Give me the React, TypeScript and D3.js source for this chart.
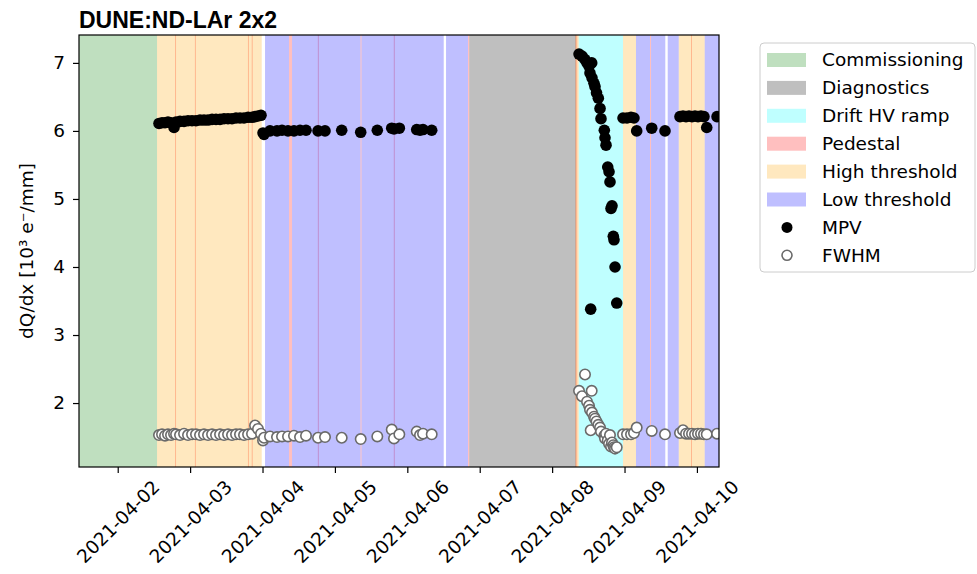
import * as React from "react";
import * as d3 from "d3";

// run-by-run dQ/dx summary
const runTimes = [
	"2021-04-02 13:41", "2021-04-02 14:41", "2021-04-02 15:41", "2021-04-02 16:40",
	"2021-04-02 17:40", "2021-04-02 18:40", "2021-04-02 19:20", "2021-04-02 20:39",
	"2021-04-02 21:59", "2021-04-02 23:18", "2021-04-03 00:38", "2021-04-03 01:57",
	"2021-04-03 03:17", "2021-04-03 04:36", "2021-04-03 05:56", "2021-04-03 07:16",
	"2021-04-03 08:35", "2021-04-03 09:55", "2021-04-03 11:14", "2021-04-03 12:34",
	"2021-04-03 13:53", "2021-04-03 15:13", "2021-04-03 16:32", "2021-04-03 17:52",
	"2021-04-03 19:12", "2021-04-03 20:31", "2021-04-03 21:31", "2021-04-03 22:30",
	"2021-04-03 23:30", "2021-04-04 00:10", "2021-04-04 00:30", "2021-04-04 02:29",
	"2021-04-04 04:48", "2021-04-04 06:28", "2021-04-04 08:27", "2021-04-04 10:26",
	"2021-04-04 12:26", "2021-04-04 14:25", "2021-04-04 18:24", "2021-04-04 20:43",
	"2021-04-05 02:15", "2021-04-05 08:33", "2021-04-05 14:03", "2021-04-05 18:50",
	"2021-04-05 19:35", "2021-04-05 21:21", "2021-04-06 03:07", "2021-04-06 04:12",
	"2021-04-06 05:12", "2021-04-06 08:05", "2021-04-08 08:55", "2021-04-08 09:54",
	"2021-04-08 10:54", "2021-04-08 11:34", "2021-04-08 12:14", "2021-04-08 12:33",
	"2021-04-08 12:47", "2021-04-08 13:07", "2021-04-08 13:13", "2021-04-08 13:53",
	"2021-04-08 14:13", "2021-04-08 14:43", "2021-04-08 15:19", "2021-04-08 15:53",
	"2021-04-08 16:12", "2021-04-08 17:18", "2021-04-08 17:32", "2021-04-08 17:52",
	"2021-04-08 18:26", "2021-04-08 18:52", "2021-04-08 19:11", "2021-04-08 19:31",
	"2021-04-08 19:51", "2021-04-08 20:17", "2021-04-08 20:31", "2021-04-08 20:51",
	"2021-04-08 21:25", "2021-04-08 23:30", "2021-04-09 00:49", "2021-04-09 02:09",
	"2021-04-09 03:08", "2021-04-09 04:02", "2021-04-09 09:01", "2021-04-09 13:25",
	"2021-04-09 18:23", "2021-04-09 19:23", "2021-04-09 20:23", "2021-04-09 21:22",
	"2021-04-09 22:22", "2021-04-09 23:22", "2021-04-10 00:21", "2021-04-10 01:21",
	"2021-04-10 02:20", "2021-04-10 03:15", "2021-04-10 06:40",
];

const mpvValues = [
	6.11, 6.12, 6.12, 6.13, 6.12, 6.05, 6.13, 6.14, 6.14, 6.15, 6.15, 6.15,
	6.16, 6.16, 6.16, 6.17, 6.17, 6.17, 6.18, 6.18, 6.18, 6.19, 6.19, 6.19,
	6.2, 6.2, 6.21, 6.22, 6.23, 5.97, 5.95, 6.0, 6.0, 6.01, 6.0, 6.0,
	6.01, 6.01, 6.0, 6.0, 6.01, 5.98, 6.01, 6.04, 6.03, 6.04, 6.02, 6.01,
	6.02, 6.01, 7.13, 7.1, 7.05, 7.0, 6.95, 6.85, 3.38, 7.0, 6.78, 6.7,
	6.65, 6.56, 6.48, 6.33, 6.18, 6.01, 5.9, 5.79, 5.47, 5.4, 5.25, 4.86,
	4.9, 4.45, 4.4, 4.0, 3.47, 6.19, 6.19, 6.2, 6.19, 6.0, 6.04, 6.0,
	6.21, 6.22, 6.21, 6.22, 6.21, 6.22, 6.21, 6.22, 6.21, 6.05, 6.21,
];

const fwhmValues = [
	1.53, 1.54, 1.52, 1.54, 1.53, 1.55, 1.54, 1.53, 1.55, 1.53, 1.54, 1.54,
	1.53, 1.54, 1.53, 1.54, 1.53, 1.54, 1.53, 1.54, 1.53, 1.54, 1.54, 1.53,
	1.54, 1.55, 1.67, 1.62, 1.55, 1.45, 1.49, 1.51, 1.5, 1.51, 1.51, 1.52,
	1.5, 1.52, 1.49, 1.5, 1.49, 1.47, 1.51, 1.61, 1.48, 1.54, 1.58, 1.53,
	1.55, 1.54, 2.18, 2.1, 2.42, 2.02, 1.96, 1.9, 1.6, 2.18, 1.86, 1.8,
	1.77, 1.73, 1.68, 1.64, 1.58, 1.52, 1.48, 1.55, 1.45, 1.4, 1.53, 1.36,
	1.42, 1.38, 1.35, 1.33, 1.35, 1.54, 1.54, 1.54, 1.56, 1.64, 1.59, 1.54,
	1.56, 1.6, 1.55, 1.55, 1.55, 1.54, 1.55, 1.55, 1.54, 1.54, 1.55,
];

// run-condition periods, [start, end]
const commissioningSpans = [["2021-04-01 11:10", "2021-04-02 13:02"]];
const diagnosticsSpans = [["2021-04-06 20:30", "2021-04-08 07:55"]];
const driftHvSpans = [["2021-04-08 08:49", "2021-04-08 23:30"]];
const pedestalSpans = [
	["2021-04-02 19:00", "2021-04-02 19:20"],
	["2021-04-03 01:35", "2021-04-03 01:55"],
	["2021-04-03 19:10", "2021-04-03 19:30"],
	["2021-04-03 20:25", "2021-04-03 20:45"],
	["2021-04-04 08:47", "2021-04-04 09:47"],
	["2021-04-04 18:20", "2021-04-04 18:40"],
	["2021-04-05 08:29", "2021-04-05 08:49"],
	["2021-04-05 19:31", "2021-04-05 19:51"],
	["2021-04-06 20:07", "2021-04-06 20:30"],
	["2021-04-08 07:45", "2021-04-08 08:20"],
	["2021-04-09 08:27", "2021-04-09 08:47"],
	["2021-04-09 22:02", "2021-04-09 22:22"],
];
const highThresholdSpans = [
	["2021-04-02 13:02", "2021-04-03 23:44"],
	["2021-04-08 07:45", "2021-04-08 08:49"],
	["2021-04-08 23:30", "2021-04-09 03:48"],
	["2021-04-09 17:58", "2021-04-10 02:35"],
];
const lowThresholdSpans = [
	["2021-04-04 00:50", "2021-04-04 08:47"],
	["2021-04-04 09:47", "2021-04-05 08:29"],
	["2021-04-05 08:49", "2021-04-06 12:04"],
	["2021-04-06 12:50", "2021-04-06 20:07"],
	["2021-04-09 03:48", "2021-04-09 08:27"],
	["2021-04-09 08:47", "2021-04-09 13:31"],
	["2021-04-09 14:19", "2021-04-09 17:58"],
	["2021-04-10 02:35", "2021-04-10 07:20"],
];

const bandNames = [
	"Commissioning",
	"Diagnostics",
	"Drift HV ramp",
	"Pedestal",
	"High threshold",
	"Low threshold",
];
const bandSpans = [
	commissioningSpans,
	diagnosticsSpans,
	driftHvSpans,
	pedestalSpans,
	highThresholdSpans,
	lowThresholdSpans,
];
const bandColors = ["green", "black", "cyan", "red", "orange", "blue"];
const bandAlpha = 0.25;

const xDomain = ["2021-04-01 11:10", "2021-04-10 07:19"];
const xTickLabels = [
	"2021-04-02", "2021-04-03", "2021-04-04", "2021-04-05", "2021-04-06",
	"2021-04-07", "2021-04-08", "2021-04-09", "2021-04-10",
];
const yDomain = [1.06, 7.41];
const yTicks = [2, 3, 4, 5, 6, 7];

const parseTime = d3.timeParse("%Y-%m-%d %H:%M");
const parseDay = d3.timeParse("%Y-%m-%d");

const font = "'DejaVu Sans', sans-serif";
const fontSize = 18.5;
const fwhmEdge = "#6a6a6a";

function xAxis(gRef: SVGGElement, xScale: d3.ScaleTime<number, number>) {
	d3.select(gRef)
		.call(
			d3
				.axisBottom(xScale)
				.tickValues(xTickLabels.map((d) => parseDay(d)!))
				.tickFormat((d) => d3.timeFormat("%Y-%m-%d")(d as Date))
				.tickSize(6)
				.tickSizeOuter(0)
		)
		.call((g) => g.select(".domain").remove())
		.attr("font-size", null)
		.attr("font-family", null)
		.call((g) => g.selectAll("line").attr("stroke-width", 1.2))
		.selectAll<SVGTextElement, unknown>("text")
		.attr("fill", "black")
		.attr("text-anchor", "middle")
		.attr("y", 0)
		.attr("dy", "0.35em")
		.attr("transform", function () {
			// centre the rotated label box under its tick
			const len = this.getComputedTextLength();
			const half = ((len + fontSize) * Math.SQRT1_2) / 2;
			return `translate(0 ${6 + 4 + half}) rotate(-45)`;
		});
}

function yAxis(gRef: SVGGElement, yScale: d3.ScaleLinear<number, number>) {
	d3.select(gRef)
		.call(
			d3
				.axisLeft(yScale)
				.tickValues(yTicks)
				.tickFormat(d3.format("d"))
				.tickSize(6)
				.tickPadding(8)
				.tickSizeOuter(0)
		)
		.call((g) => g.select(".domain").remove())
		.attr("font-size", null)
		.attr("font-family", null)
		.call((g) => g.selectAll("line").attr("stroke-width", 1.2))
		.selectAll("text")
		.attr("fill", "black");
}

function Legend({ x, y }: { x: number; y: number }) {
	const rowH = 27.9;
	return (
		<g transform={`translate(${x} ${y})`}>
			<rect
				width={215}
				height={229}
				rx={4}
				fill="white"
				fillOpacity={0.8}
				stroke="#cccccc"
			/>
			{bandNames.map((name, i) => (
				<g key={name} transform={`translate(0 ${17 + rowH * i})`}>
					<rect
						x={7}
						y={-7}
						width={39}
						height={14}
						fill={bandColors[i]}
						fillOpacity={bandAlpha}
					/>
					<text x={62} dy="0.35em">
						{name}
					</text>
				</g>
			))}
			<g transform={`translate(0 ${17 + rowH * 6})`}>
				<circle cx={27} r={5.5} fill="black" />
				<text x={62} dy="0.35em">
					MPV
				</text>
			</g>
			<g transform={`translate(0 ${17 + rowH * 7})`}>
				<circle cx={27} r={5} fill="white" stroke={fwhmEdge} strokeWidth={1.6} />
				<text x={62} dy="0.35em">
					FWHM
				</text>
			</g>
		</g>
	);
}

export default function App() {
	const width = 977;
	const height = 574;
	const margin = { left: 79, right: 258, top: 35, bottom: 107 };
	const plotWidth = width - margin.left - margin.right;
	const plotHeight = height - margin.top - margin.bottom;

	const xScale = React.useMemo(
		() =>
			d3
				.scaleTime()
				.domain(xDomain.map((d) => parseTime(d)!))
				.range([0, plotWidth]),
		[plotWidth]
	);
	const yScale = React.useMemo(
		() => d3.scaleLinear().domain(yDomain).range([plotHeight, 0]),
		[plotHeight]
	);

	const runs = runTimes.map((t, i) => ({
		time: parseTime(t)!,
		mpv: mpvValues[i],
		fwhm: fwhmValues[i],
	}));

	const gxRef = React.useRef<SVGGElement>(null);
	const gyRef = React.useRef<SVGGElement>(null);
	React.useEffect(() => {
		xAxis(gxRef.current!, xScale);
	}, [xScale]);
	React.useEffect(() => {
		yAxis(gyRef.current!, yScale);
	}, [yScale]);

	return (
		<svg
			width={width}
			height={height}
			fontFamily={font}
			fontSize={fontSize}
			style={{ position: "absolute", left: 0, top: 0, background: "white" }}
		>
			<defs>
				<clipPath id="plot-clip">
					<rect width={plotWidth} height={plotHeight} />
				</clipPath>
			</defs>
			<text
				x={margin.left}
				y={28}
				fontFamily="'Liberation Sans', Arial, sans-serif"
				fontWeight="bold"
				fontSize={23}
			>
				DUNE:ND-LAr 2x2
			</text>
			<g transform={`translate(${margin.left} ${margin.top})`}>
				<g clipPath="url(#plot-clip)">
					{bandSpans.map((spans, i) =>
						spans.map(([s, e], j) => {
							const x0 = xScale(parseTime(s)!);
							const x1 = xScale(parseTime(e)!);
							return (
								<rect
									key={`${i}-${j}`}
									x={x0}
									y={0}
									width={x1 - x0}
									height={plotHeight}
									fill={bandColors[i]}
									fillOpacity={bandAlpha}
								/>
							);
						})
					)}
					{runs.map((d, i) => (
						<circle
							key={`mpv-${i}`}
							cx={xScale(d.time)}
							cy={yScale(d.mpv)}
							r={5.8}
							fill="black"
						/>
					))}
					{runs.map((d, i) => (
						<circle
							key={`fwhm-${i}`}
							cx={xScale(d.time)}
							cy={yScale(d.fwhm)}
							r={5.2}
							fill="white"
							stroke={fwhmEdge}
							strokeWidth={1.6}
						/>
					))}
				</g>
				<rect
					width={plotWidth}
					height={plotHeight}
					fill="none"
					stroke="black"
					strokeWidth={1.2}
				/>
				<g ref={gxRef} transform={`translate(0 ${plotHeight})`} />
				<g ref={gyRef} />
				<text
					transform={`translate(-46 ${plotHeight / 2}) rotate(-90)`}
					textAnchor="middle"
				>
					dQ/dx [10³ e⁻/mm]
				</text>
			</g>
			<Legend x={760} y={43} />
		</svg>
	);
}
